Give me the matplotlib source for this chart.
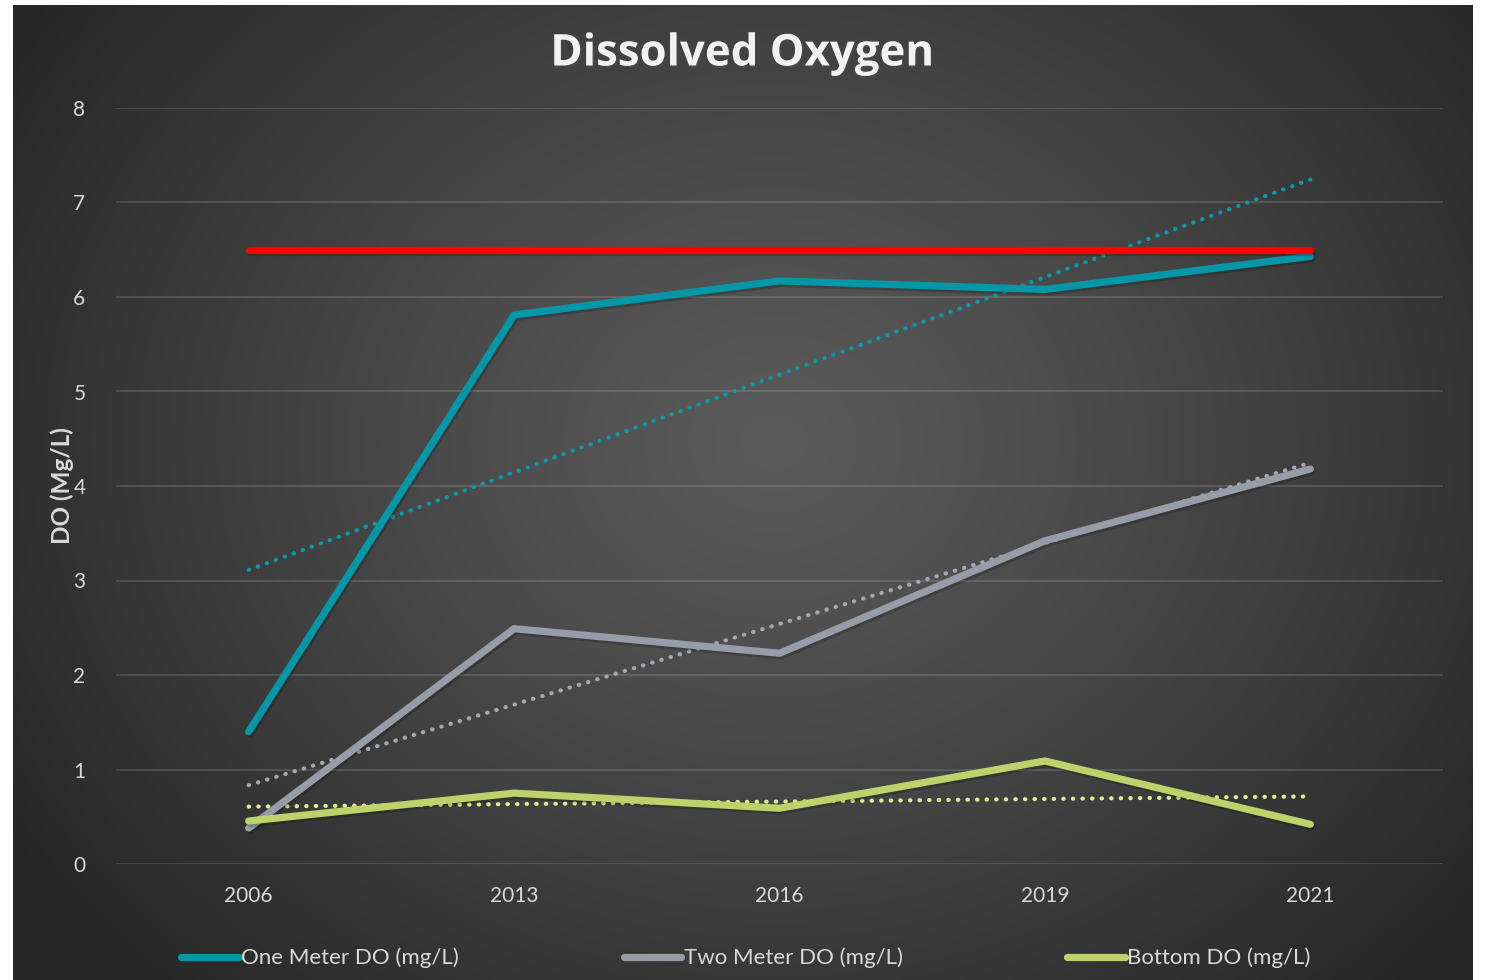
import numpy as np
import matplotlib
matplotlib.use("Agg")
import matplotlib.pyplot as plt
import matplotlib.patheffects as pe

plt.rcParams['font.family'] = ['Lato', 'DejaVu Sans']

years = ["2006", "2013", "2016", "2019", "2021"]
one_meter = [1.40, 5.81, 6.17, 6.08, 6.43]
two_meter = [0.38, 2.49, 2.23, 3.42, 4.18]
bottom = [0.455, 0.75, 0.59, 1.09, 0.42]
standard = [6.5, 6.5, 6.5, 6.5, 6.5]
y_ticks = [0, 1, 2, 3, 4, 5, 6, 7, 8]
y_tick_labels = ["0", "1", "2", "3", "4", "5", "6", "7", "8"]

W, H = 1486, 980
fig = plt.figure(figsize=(W / 100, H / 100), dpi=100, facecolor="white")

# background panel with radial gradient
bg = fig.add_axes([13 / W, 0, 1460 / W, 975 / H])
bg.set_axis_off()
ny, nx = 400, 600
yy, xx = np.mgrid[0:ny, 0:nx]
cx, cy = nx * 0.52, ny * 0.55
r = np.sqrt(((xx - cx) / (nx * 0.62)) ** 2 + ((yy - cy) / (ny * 0.78)) ** 2)
r = np.clip(r, 0, 1)
lo, hi = 0x26 / 255, 0x5a / 255
val = hi - (hi - lo) * r ** 1.2
img = np.dstack([val, val, val])
bg.imshow(img, aspect="auto", extent=[0, 1, 0, 1], origin="lower")
bg.set_xlim(0, 1)
bg.set_ylim(0, 1)

ax = fig.add_axes([116 / W, (H - 864) / H, (1443 - 116) / W, (864 - 108) / H])
ax.set_facecolor("none")
x = np.arange(len(years))

shadow = [pe.SimpleLineShadow(offset=(1.2, -1.8), shadow_color="black", alpha=0.2), pe.Normal()]

series = [
    ("One Meter DO (mg/L)", one_meter, "#0497a8", "#0a9bab"),
    ("Two Meter DO (mg/L)", two_meter, "#959da8", "#a3a9b1"),
    ("Bottom DO (mg/L)", bottom, "#bdd26a", "#e2ee93"),
]
handles = []
for name, vals, col, tcol in series:
    coef = np.polyfit(x + 1, vals, 1)
    trend = np.polyval(coef, x + 1)
    ax.plot(x, trend, linestyle=(0, (0.1, 2.2)), dash_capstyle="round", color=tcol, lw=3.0, zorder=3)
    h, = ax.plot(x, vals, color=col, lw=5.2, solid_capstyle="round", solid_joinstyle="round",
                 path_effects=shadow, zorder=4, label=name)
    handles.append(h)

ax.plot(x, standard, color="#ff0000", lw=5.2, solid_capstyle="round", path_effects=shadow, zorder=5)

ax.set_xlim(-0.5, len(years) - 0.5)
ax.set_ylim(0, 8)
ax.set_yticks(y_ticks)
ax.set_yticklabels(y_tick_labels)
ax.set_xticks(x)
ax.set_xticklabels(years)
ax.grid(axis="y", color="white", alpha=0.13, lw=1.5)
ax.set_axisbelow(True)
for s in ax.spines.values():
    s.set_visible(False)
ax.tick_params(axis="both", length=0, colors="#d9d9d9", labelsize=15)
ax.tick_params(axis="y", pad=22)
ax.tick_params(axis="x", pad=16)

fig.text(62 / W, 1 - 486 / H, "DO (Mg/L)", rotation=90, ha="center", va="center",
         color="#d9d9d9", fontsize=17.5, fontweight="bold")

fig.text(742 / W, 1 - 54 / H, "Dissolved Oxygen", ha="center", va="center", color="#f2f2f2",
         fontsize=31.5, fontweight="bold", family=["Open Sans", "DejaVu Sans"],
         path_effects=[pe.withSimplePatchShadow(offset=(1.5, -2), alpha=0.5)])

leg = fig.legend(handles=handles, loc="center", bbox_to_anchor=(746 / W, 1 - 958 / H), ncol=3,
                 frameon=False, fontsize=16, handlelength=2.6, handletextpad=0.1,
                 columnspacing=7.4, labelcolor="#d9d9d9")
for lh in leg.get_lines():
    lh.set_path_effects([pe.Normal()])
    lh.set_linewidth(5.2)

fig.savefig("out.png", dpi=100, facecolor="white")
